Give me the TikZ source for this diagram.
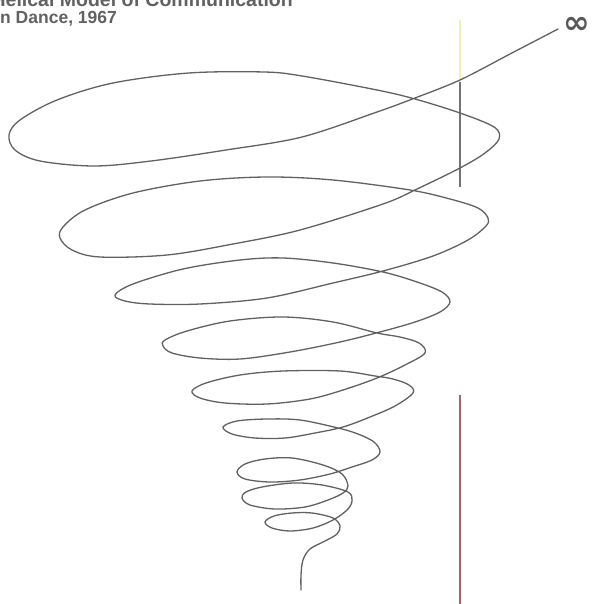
\documentclass[tikz,border=0pt]{standalone}
\usepackage{fontspec}
\setmainfont{Liberation Sans}
\newfontfamily\symfont{DejaVu Sans}
\begin{document}
\begin{tikzpicture}[x=1pt,y=-1pt,
  spiral/.style={draw=black!62, line width=1.3pt, line join=round, line cap=round},
  caption/.style={inner sep=0pt, text=black!62, font=\fontsize{17.5}{20}\selectfont\bfseries},
  vline/.style={line width=1.6pt}]
\useasboundingbox (0,0) rectangle (592,604);
\clip (0,0) rectangle (592,604);
\fill[white] (0,0) rectangle (592,604);
% texts
\node[caption, anchor=base east, font=\fontsize{19.5}{22}\selectfont\bfseries] (title) at (293,7) {Helical Model of Communication};
\node[caption, anchor=base west] (sub) at (0,24) {n Dance, 1967};
\node[inner sep=0pt, text=black!65, font=\symfont\bfseries\fontsize{32}{32}\selectfont] (inf) at (577,25) {∞};
\coordinate (base) at (301,590);
% vertical lines
\draw[vline, draw={rgb,255:red,240;green,240;blue,190}] (460,20) -- (460,82);
\draw[vline, draw=black!55] (460,82) -- (460,187);
\draw[vline, draw={rgb,255:red,160;green,100;blue,110}] (460,395) -- (460,604);
% spiral
\draw[spiral] plot[smooth, tension=0.55] coordinates {
(301,590) (301,575) (303,560) (310,549) (325,541) (337,534) (340,526)
(333,518) (312,513) (292,513) (274,516) (265,522)
(272,528) (290,531) (313,528) (333,520) (347,510) (352,501)
(348,492) (322,485) (293,483) (262,487) (246,492) (242,498)
(250,505) (275,509) (305,507) (328,500) (343,493) (348,486)
(342,474) (323,465) (292,458) (265,459) (245,464) (237,472)
(245,479) (270,482) (300,480) (330,474) (352,467) (372,460) (380,452)
(374,442) (358,434) (338,428) (300,420) (267,419) (237,421) (223,427)
(232,434) (255,438) (285,438) (315,433) (343,427) (370,417) (395,406) (413,393)
(409,385) (393,379) (375,376) (340,371) (283,371) (240,375) (206,383) (192,391)
(200,398) (225,403) (267,404) (310,399) (343,390) (377,378) (405,365) (425,353)
(419,343) (400,337) (377,333) (333,322) (283,317) (230,321) (187,331) (165,340) (163,346)
(172,353) (200,358) (240,359) (290,352) (340,342) (380,332) (415,322) (440,312) (450,302)
(442,292) (417,282) (383,272) (333,263) (283,258) (240,260) (183,269) (133,284) (115,295)
(125,301) (150,304) (200,304) (267,298) (333,283) (383,271) (433,256) (468,240) (486,226) (488,218)
(478,208) (450,199) (410,190) (333,180) (267,177) (200,181) (133,193) (85,210) (63,227) (60,238)
(72,250) (100,257) (167,255) (233,244) (300,230) (383,204) (417,189) (460,168) (485,153) (499,139)
(494,127) (460,113) (415,99) (377,90) (302,76) (264,72) (189,73) (113,83) (57,100) (20,120) (9,135)
(15,150) (40,161) (94,166) (151,161) (226,150) (302,137) (377,112) (415,98) (460,80) (510,54) (558,29)
};
\end{tikzpicture}
\end{document}
